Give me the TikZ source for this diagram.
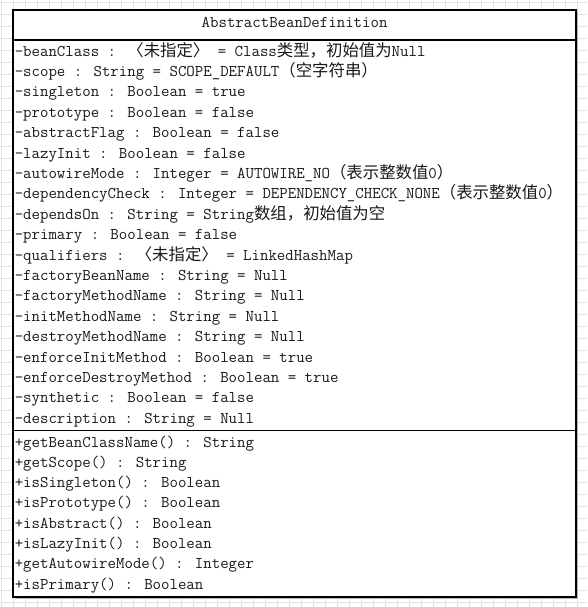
\documentclass[tikz,border=0pt]{standalone}
\usepackage{fontspec}
\usepackage{tikz}
\usetikzlibrary{calc}
\newfontfamily\cjk{Noto Sans CJK SC}
\newcommand{\zh}[1]{{\cjk #1}}
\newcommand{\rowstep}{20.4}
\tikzset{member/.style={color=#1,anchor=base west,inner sep=0pt,
    font=\ttfamily\fontsize{12.3pt}{14pt}\selectfont},member/.default=black!90}
\tikzset{gridline/.style={color=#1,line width=0.5pt},gridline/.default=gray!22}
\tikzset{classbox/.style={draw=#1,fill=white,line width=1.3pt},classbox/.default=black}

\begin{document}
\begin{tikzpicture}[x=0.75pt,y=-0.75pt]

	% Fundo e quadricula
	\fill [white] (0,0) rectangle (587,607);
	\useasboundingbox (0,0) rectangle (587,607);
	\foreach \gx in {1.3,13.3,...,587}
		\draw [gridline] (\gx,0) -- (\gx,607);
	\foreach \gy in {2.7,14.7,...,607}
		\draw [gridline] (0,\gy) -- (587,\gy);

	% A caixa da classe e sua sombra
	\coordinate (box nw) at (13.3,10);
	\coordinate (box se) at (576,597);
	\fill [gray!55] ($(box nw) + (2,2)$) rectangle ($(box se) + (2,2)$);
	\draw [classbox] (box nw) rectangle (box se);

	% As linhas divisorias
	\coordinate (head sep) at (0,40);
	\coordinate (attr sep) at (0,430.5);
	\draw [line width=1pt] (box nw |- head sep) -- (box se |- head sep);
	\draw [line width=1pt] (box nw |- attr sep) -- (box se |- attr sep);

	% O nome da classe
	\node [member, anchor=base] (title) at (294.6,27.7) {AbstractBeanDefinition};

	% Os atributos
	\foreach \txt [count=\i from 0] in {
		{-beanClass : \zh{〈未指定〉} = Class\zh{类型，初始值为}Null},
		{-scope : String = SCOPE\_DEFAULT\zh{（空字符串）}},
		{-singleton : Boolean = true},
		{-prototype : Boolean = false},
		{-abstractFlag : Boolean = false},
		{-lazyInit : Boolean = false},
		{-autowireMode : Integer = AUTOWIRE\_NO\zh{（表示整数值}0\zh{）}},
		{-dependencyCheck : Integer = DEPENDENCY\_CHECK\_NONE\zh{（表示整数值}0\zh{）}},
		{-dependsOn : String = String\zh{数组，初始值为空}},
		{-primary : Boolean = false},
		{-qualifiers : \zh{〈未指定〉} = LinkedHashMap},
		{-factoryBeanName : String = Null},
		{-factoryMethodName : String = Null},
		{-initMethodName : String = Null},
		{-destroyMethodName : String = Null},
		{-enforceInitMethod : Boolean = true},
		{-enforceDestroyMethod : Boolean = true},
		{-synthetic : Boolean = false},
		{-description : String = Null}}
		\node [member] (attr-\i) at (14.5,{56+\i*\rowstep}) {\txt};

	% Os metodos
	\foreach \txt [count=\i from 0] in {
		{+getBeanClassName() : String},
		{+getScope() : String},
		{+isSingleton() : Boolean},
		{+isPrototype() : Boolean},
		{+isAbstract() : Boolean},
		{+isLazyInit() : Boolean},
		{+getAutowireMode() : Integer},
		{+isPrimary() : Boolean}}
		\node [member] (op-\i) at (14.5,{447+\i*20.3}) {\txt};

\end{tikzpicture}
\end{document}
